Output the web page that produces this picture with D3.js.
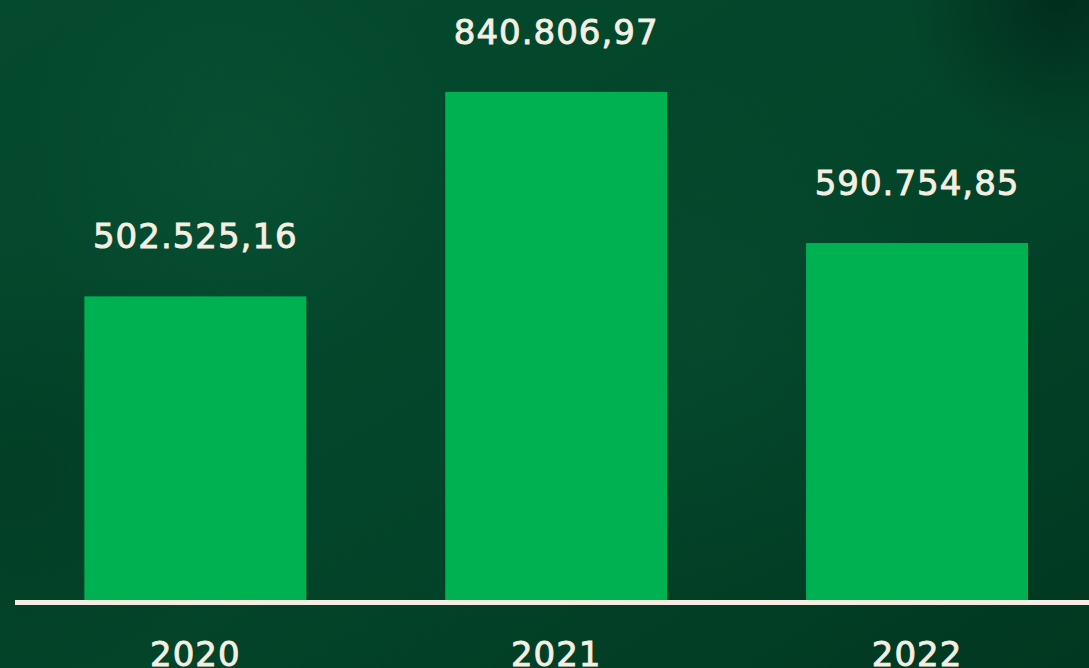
<!DOCTYPE html>
<html>
<head>
<meta charset="utf-8">
<script src="https://cdn.jsdelivr.net/npm/d3@7"></script>
<style>
  html, body { margin: 0; padding: 0; background: #023f27; overflow: hidden; }
  svg { display: block; }
</style>
</head>
<body>
<div id="chart"></div>
<script>
const years = ["2020", "2021", "2022"];
const values = [502525.16, 840806.97, 590754.85];
const valueLabels = ["502.525,16", "840.806,97", "590.754,85"];

const width = 1089, height = 668;
const baseline = 600;

const svg = d3.select("#chart").append("svg")
    .attr("width", width).attr("height", height);

// background: dark green with soft blotches
const defs = svg.append("defs");
const bg = defs.append("linearGradient").attr("id", "bg")
    .attr("x1", 0).attr("y1", 0).attr("x2", 1).attr("y2", 1);
bg.append("stop").attr("offset", "0%").attr("stop-color", "#044a2e");
bg.append("stop").attr("offset", "55%").attr("stop-color", "#03452a");
bg.append("stop").attr("offset", "100%").attr("stop-color", "#013821");
svg.append("rect").attr("width", width).attr("height", height).attr("fill", "url(#bg)");

const blobs = [
    {id: "b1", cx: 240, cy: 160, r: 220, color: "#0f5a3d", op: 0.4},
    {id: "b2", cx: 700, cy: 330, r: 260, color: "#0b5236", op: 0.3},
    {id: "b3", cx: 1060, cy: 0, r: 150, color: "#00261a", op: 0.75},
    {id: "b4", cx: 20, cy: 480, r: 220, color: "#013620", op: 0.5}
];
blobs.forEach(b => {
    const g = defs.append("radialGradient").attr("id", b.id);
    g.append("stop").attr("offset", "0%").attr("stop-color", b.color).attr("stop-opacity", b.op);
    g.append("stop").attr("offset", "100%").attr("stop-color", b.color).attr("stop-opacity", 0);
    svg.append("circle").attr("cx", b.cx).attr("cy", b.cy).attr("r", b.r).attr("fill", `url(#${b.id})`);
});

const x = d3.scaleBand().domain(years).range([15.8, 1096.6])
    .paddingInner(0.385).paddingOuter(0.19);
const y = d3.scaleLinear().domain([0, 1000000]).range([baseline, baseline - 1000000 / 1655]);

const data = years.map((yr, i) => ({year: yr, value: values[i], label: valueLabels[i]}));

svg.append("g").selectAll("rect").data(data).enter().append("rect")
    .attr("x", d => x(d.year))
    .attr("y", d => y(d.value))
    .attr("width", x.bandwidth())
    .attr("height", d => y(0) - y(d.value))
    .attr("fill", "#00b152");

// medium weight: regular face with a thin stroke
const textStyle = sel => sel
    .attr("fill", "#f4efe2")
    .attr("stroke", "#f4efe2")
    .attr("stroke-width", 0.9)
    .attr("font-family", "'DejaVu Sans', sans-serif")
    .attr("font-size", 34)
    .attr("letter-spacing", 1)
    .attr("text-anchor", "middle");

svg.append("g").selectAll("text").data(data).enter().append("text")
    .call(textStyle)
    .attr("x", d => x(d.year) + x.bandwidth() / 2)
    .attr("y", d => y(d.value) - 48)
    .text(d => d.label);

// axis line
svg.append("line")
    .attr("x1", 15).attr("x2", width)
    .attr("y1", baseline + 2.5).attr("y2", baseline + 2.5)
    .attr("stroke", "#f4efe2").attr("stroke-width", 5);

svg.append("g").selectAll("text").data(data).enter().append("text")
    .call(textStyle)
    .attr("x", d => x(d.year) + x.bandwidth() / 2)
    .attr("y", 666)
    .text(d => d.year);
</script>
</body>
</html>
